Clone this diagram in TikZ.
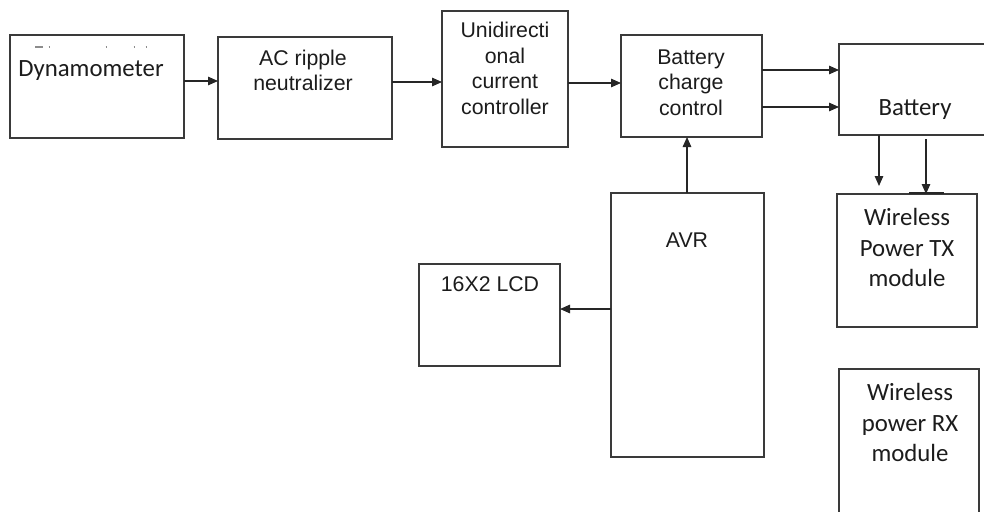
\documentclass[tikz,border=0pt]{standalone}
\usepackage{fontspec}
\setmainfont{Liberation Sans}
\newfontfamily\calib{Carlito}
\usetikzlibrary{arrows.meta}
\definecolor{lineg}{HTML}{3A3A3A}
\definecolor{txtg}{HTML}{1C1C1C}
\begin{document}
\begin{tikzpicture}[x=1pt,y=-1pt,
  box/.style={draw=lineg, line width=1.4pt, rectangle, inner sep=0pt, outer sep=0pt},
  arial/.style={font=\fontsize{21.3pt}{25.5pt}\selectfont, text=txtg, align=center, inner sep=0pt},
  cal/.style={font=\calib\fontsize{24.8pt}{30.5pt}\selectfont, text=txtg, align=center, inner sep=0pt},
  arr/.style={draw=black!85, line width=1.3pt, -{Triangle[length=10pt,width=8.5pt]}},
  resid/.style={draw=black!45, line width=1.2pt}
]
\clip (0,0) rectangle (984,511);
\fill[white] (0,0) rectangle (984,511);

% boxes
\node[box, minimum width=174pt, minimum height=103pt] (dyn) at (97,86.5) {};
\node[box, minimum width=174pt, minimum height=102pt] (ac) at (305,88) {};
\node[box, minimum width=126pt, minimum height=136pt] (uni) at (505,79) {};
\node[box, minimum width=141pt, minimum height=102pt] (bcc) at (691.5,86) {};
\node[box, minimum width=190pt, minimum height=91pt] (bat) at (934,89.5) {};
\node[box, minimum width=153pt, minimum height=264pt] (avr) at (687.5,325) {};
\node[box, minimum width=141pt, minimum height=102pt] (lcd) at (489.5,315) {};
\node[box, minimum width=140pt, minimum height=133pt] (tx) at (907,260.5) {};
\node[box, minimum width=140pt, minimum height=170pt] (rx) at (909,454) {};

% texts
\node[cal] (tdyn) at (91,71) {Dynamometer};
\node[arial] (tac) at (303,70.5) {AC ripple\\neutralizer};
\node[arial] (tuni) at (505,68.5) {Unidirecti\\onal\\current\\controller};
\node[arial] (tbcc) at (691,82.5) {Battery\\charge\\control};
\node[cal] (tbat) at (915,110) {Battery};
\node[arial] (tavr) at (687,240) {AVR};
\node[arial] (tlcd) at (490,284) {16X2 LCD};
\node[cal] (ttx) at (907,247.5) {Wireless\\Power TX\\module};
\node[cal] (trx) at (910,422.5) {Wireless\\power RX\\module};

% residual marks in Dynamometer box
\draw[resid] (35,47) -- (43,47);
\draw[resid] (48.5,47) -- (50,47);
\draw[resid] (105.5,47) -- (107,47);
\draw[resid] (133.5,47) -- (135,47);
\draw[resid] (145.5,47) -- (147,47);

% connectors
\draw[arr] (dyn.east |- 0,81) -- (ac.west |- 0,81);
\draw[arr] (ac.east |- 0,82) -- (uni.west |- 0,82);
\draw[arr] (uni.east |- 0,83) -- (bcc.west |- 0,83);
\draw[arr] (bcc.east |- 0,70) -- (bat.west |- 0,70);
\draw[arr] (bcc.east |- 0,107) -- (bat.west |- 0,107);
\draw[arr] (avr.north -| 687,0) -- (bcc.south -| 687,0);
\draw[arr] (avr.west |- 0,309) -- (lcd.east |- 0,309);
\coordinate (tipA) at (879,186);
\draw[arr] (bat.south -| 879,0) -- (tipA);
\coordinate (batB) at (926,139);
\coordinate (barL) at (909,193);
\coordinate (barR) at (944,193);
\draw[arr] (batB) -- (tx.north -| 926,0);
\draw[draw=black!85, line width=1.8pt] (barL) -- (barR);
\end{tikzpicture}
\end{document}
